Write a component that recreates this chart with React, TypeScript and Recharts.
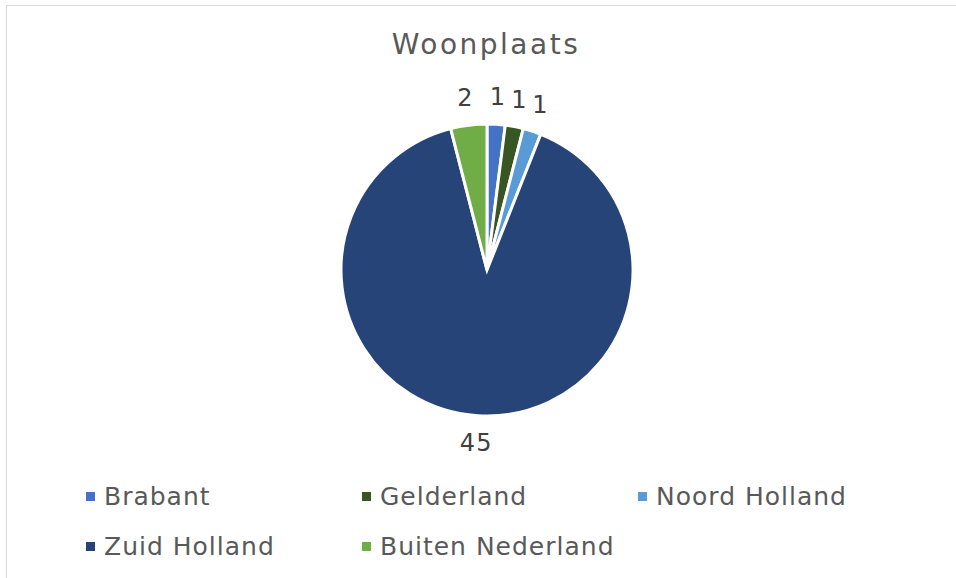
import React from "react";
import { PieChart, Pie, Cell, Legend } from "recharts";

const categories = ["Brabant", "Gelderland", "Noord Holland", "Zuid Holland", "Buiten Nederland"];
const values = [1, 1, 1, 45, 2];
const colors = ["#4472C4", "#375623", "#5B9BD5", "#264478", "#70AD47"];
const title = "Woonplaats";

const data = categories.map((name, i) => ({ name, value: values[i] }));

const FONT = "'DejaVu Sans', sans-serif";
const RAD = Math.PI / 180;

const renderLabel = (props: any) => {
  const { cx, cy, midAngle, outerRadius, value } = props;
  const r = outerRadius + 27;
  const x = cx + r * Math.cos(-midAngle * RAD);
  const y = cy + r * Math.sin(-midAngle * RAD);
  return (
    <text
      x={x}
      y={y}
      textAnchor="middle"
      dominantBaseline="central"
      fill="#404040"
      fontFamily={FONT}
      fontSize={24}
      letterSpacing={1}
    >
      {value}
    </text>
  );
};

const renderLegend = () => {
  return (
    <div style={{ position: "relative", width: 956, height: 110 }}>
      {categories.map((name, i) => {
        const col = i % 3;
        const row = Math.floor(i / 3);
        return (
          <div
            key={name}
            style={{
              position: "absolute",
              left: 86 + col * 276,
              top: row * 50,
              display: "flex",
              alignItems: "center",
              fontFamily: FONT,
              fontSize: 25,
              letterSpacing: 1,
              color: "#595959",
              whiteSpace: "nowrap",
              height: 30,
            }}
          >
            <span
              style={{
                display: "inline-block",
                width: 9,
                height: 9,
                background: colors[i],
                marginRight: 9,
              }}
            />
            <span>{name}</span>
          </div>
        );
      })}
    </div>
  );
};

export default function App() {
  return (
    <div
      style={{
        position: "absolute",
        left: 0,
        top: 0,
        width: 956,
        height: 578,
        overflow: "hidden",
        background: "#fff",
      }}
    >
      <div
        style={{
          position: "absolute",
          left: 6,
          top: 5,
          width: 980,
          height: 600,
          border: "1.5px solid #d9d9d9",
          boxSizing: "border-box",
        }}
      />
      <div
        style={{
          position: "absolute",
          left: 0,
          top: 27,
          width: 972,
          textAlign: "center",
          fontFamily: FONT,
          fontSize: 28,
          letterSpacing: 2.5,
          color: "#595959",
          lineHeight: "36px",
        }}
      >
        {title}
      </div>
      <div style={{ position: "absolute", left: 0, top: 0 }}>
        <PieChart width={956} height={578} margin={{ top: 0, right: 0, bottom: 0, left: 0 }}>
          <Pie
            data={data}
            dataKey="value"
            nameKey="name"
            cx={487}
            cy={270}
            outerRadius={146}
            startAngle={90}
            endAngle={-270}
            stroke="#ffffff"
            strokeWidth={3}
            label={renderLabel}
            labelLine={false}
            isAnimationActive={false}
          >
            {data.map((d, i) => (
              <Cell key={d.name} fill={colors[i]} />
            ))}
          </Pie>
          <Legend
            content={renderLegend}
            verticalAlign="bottom"
            wrapperStyle={{ position: "absolute", left: 0, top: 481, bottom: "auto", width: 956, height: 110 }}
          />
        </PieChart>
      </div>
    </div>
  );
}
